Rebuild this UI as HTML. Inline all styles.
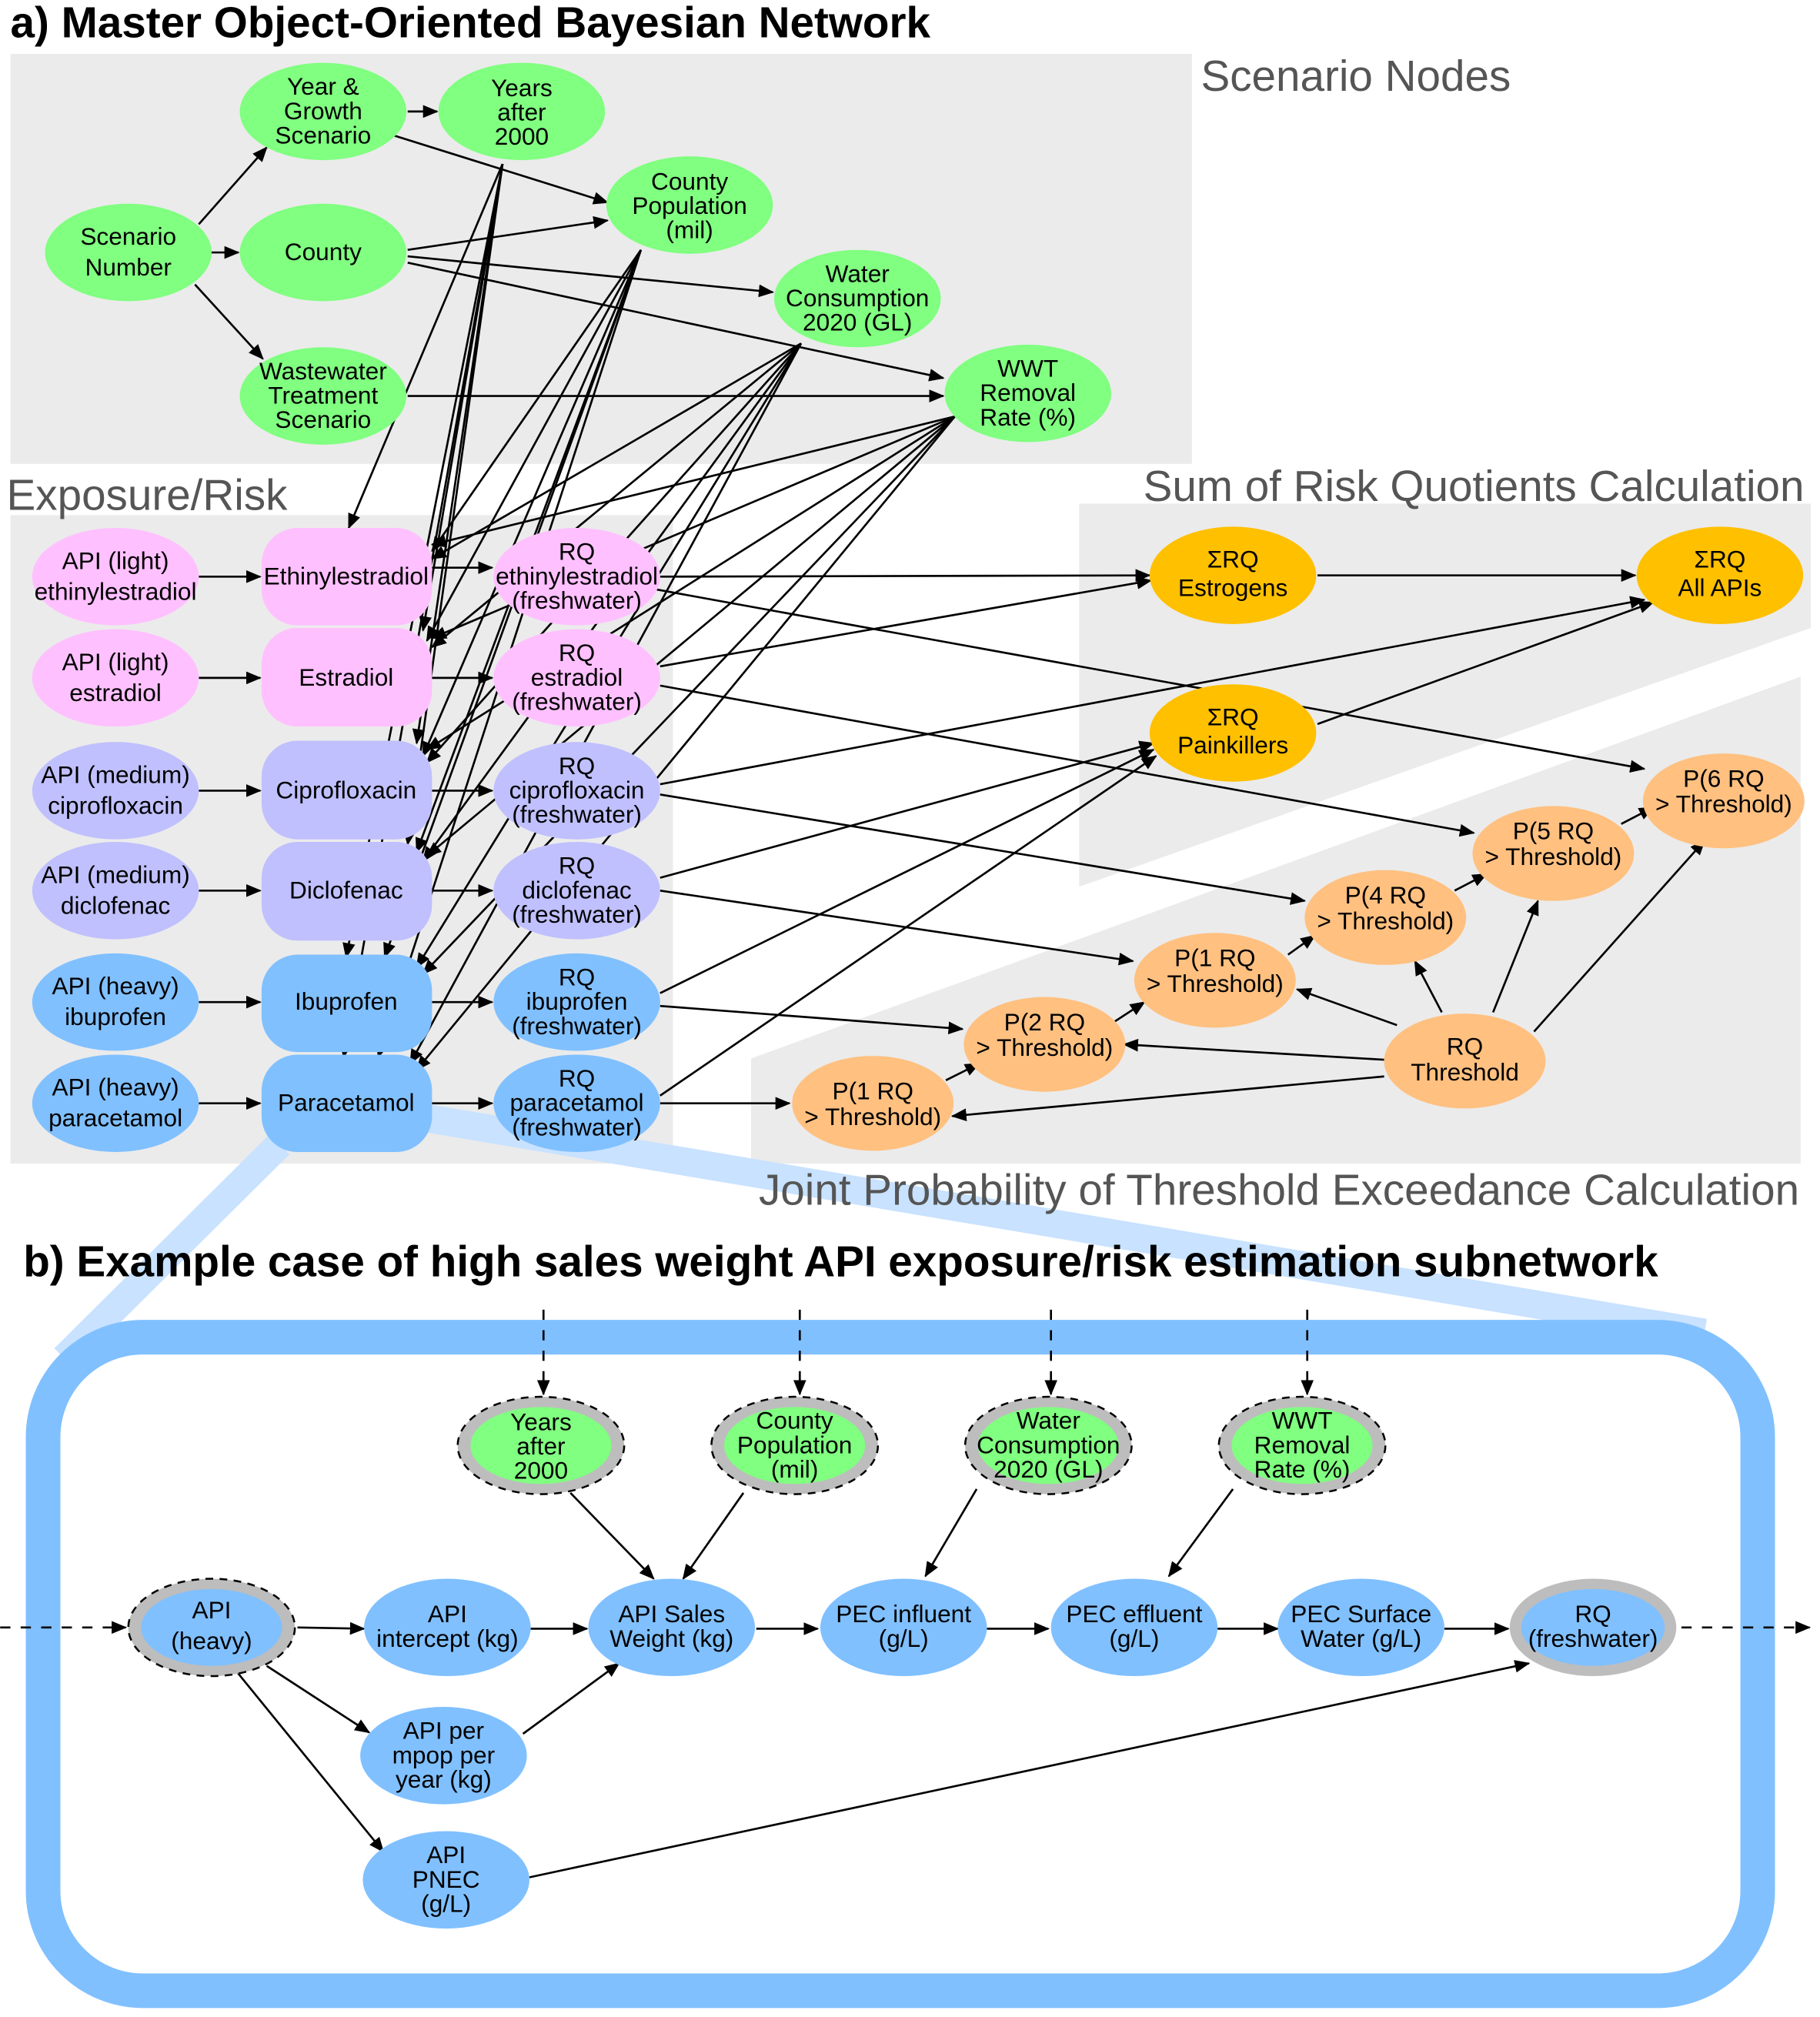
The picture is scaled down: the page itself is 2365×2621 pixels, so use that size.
<!DOCTYPE html>
<html><head><meta charset="utf-8"><style>
html,body{margin:0;padding:0;background:#fff}
svg{display:block}
text{font-family:"Liberation Sans",sans-serif;font-size:19px;fill:#000;text-anchor:middle}
.t{font-size:34px;font-weight:bold;text-anchor:start}
.g{font-size:34px;fill:#555;text-anchor:start}
.e line,.e path{stroke:#000;stroke-width:1.6;fill:none;marker-end:url(#a)}
.d line{stroke:#000;stroke-width:1.6;stroke-dasharray:8,8;marker-end:url(#a)}
</style></head><body>
<svg width="2365" height="2621" viewBox="0 0 1420 1574" xmlns="http://www.w3.org/2000/svg">
<defs><marker id="a" markerUnits="userSpaceOnUse" markerWidth="12" markerHeight="10" refX="11" refY="5" orient="auto"><path d="M0,0 L12,5 L0,10 z" fill="#000"/></marker></defs>

<rect x="8" y="42" width="922" height="320" fill="#ebebeb"/>
<rect x="8" y="402" width="517" height="506" fill="#ebebeb"/>
<polygon points="842,393 1413,393 1413,490 842,692" fill="#ebebeb"/>
<polygon points="586,826 1405,528 1405,908 586,908" fill="#ebebeb"/>
<g stroke="#c8e2ff" stroke-width="22"><line x1="218" y1="893" x2="50" y2="1060"/><line x1="335" y1="873" x2="1330" y2="1040"/></g>
<text class="t" x="8" y="29">a) Master Object-Oriented Bayesian Network</text>
<text class="g" x="937" y="71">Scenario Nodes</text>
<text class="g" x="5" y="398">Exposure/Risk</text>
<text class="g" x="892" y="391">Sum of Risk Quotients Calculation</text>
<text class="g" x="592" y="940">Joint Probability of Threshold Exceedance Calculation</text>
<text class="t" x="18" y="996">b) Example case of high sales weight API exposure/risk estimation subnetwork</text>
<rect x="33.5" y="1043.5" width="1338" height="510" rx="78" fill="#fff" stroke="#80c0ff" stroke-width="27"/>

<g class="e">
<line x1="155" y1="175" x2="208" y2="115"/><line x1="165" y1="197" x2="186" y2="197"/><line x1="152" y1="222" x2="205" y2="280"/>
<line x1="318" y1="87" x2="341" y2="87"/><line x1="305" y1="105" x2="474" y2="158"/>
<line x1="318" y1="195" x2="474" y2="172"/><line x1="318" y1="200" x2="603" y2="228"/><line x1="318" y1="205" x2="736" y2="295"/>
<line x1="318" y1="309" x2="736" y2="309"/>
<line x1="392" y1="128" x2="272" y2="412"/><line x1="392" y1="128" x2="330" y2="492"/><line x1="392" y1="128" x2="325" y2="580"/><line x1="392" y1="128" x2="318" y2="659"/><line x1="392" y1="128" x2="270" y2="747"/><line x1="392" y1="128" x2="268" y2="825"/>
<line x1="500" y1="195" x2="337" y2="430"/><line x1="500" y1="195" x2="333" y2="500"/><line x1="500" y1="195" x2="330" y2="590"/><line x1="500" y1="195" x2="325" y2="665"/><line x1="500" y1="195" x2="300" y2="747"/><line x1="500" y1="195" x2="295" y2="825"/>
<line x1="625" y1="268" x2="337" y2="436"/><line x1="625" y1="268" x2="337" y2="505"/><line x1="625" y1="268" x2="333" y2="595"/><line x1="625" y1="268" x2="330" y2="672"/><line x1="625" y1="268" x2="325" y2="755"/><line x1="625" y1="268" x2="320" y2="830"/>
<line x1="745" y1="325" x2="337" y2="425"/><line x1="745" y1="325" x2="337" y2="498"/><line x1="745" y1="325" x2="333" y2="585"/><line x1="745" y1="325" x2="333" y2="668"/><line x1="745" y1="325" x2="330" y2="760"/><line x1="745" y1="325" x2="325" y2="835"/>
<line x1="155" y1="450" x2="203" y2="450"/><line x1="155" y1="529" x2="203" y2="529"/><line x1="155" y1="617" x2="203" y2="617"/><line x1="155" y1="695" x2="203" y2="695"/><line x1="155" y1="782" x2="203" y2="782"/><line x1="155" y1="861" x2="203" y2="861"/>
<line x1="337" y1="443" x2="384" y2="443"/><line x1="337" y1="529" x2="384" y2="529"/><line x1="337" y1="617" x2="384" y2="617"/><line x1="337" y1="695" x2="384" y2="695"/><line x1="337" y1="782" x2="384" y2="782"/><line x1="337" y1="861" x2="384" y2="861"/>
<line x1="515" y1="450" x2="897" y2="449"/><line x1="512" y1="460" x2="1283" y2="600"/>
<line x1="515" y1="520" x2="898" y2="453"/><line x1="515" y1="535" x2="1150" y2="650"/>
<line x1="515" y1="612" x2="1283" y2="468"/><line x1="515" y1="620" x2="1018" y2="703"/>
<line x1="515" y1="685" x2="900" y2="580"/><line x1="515" y1="695" x2="884" y2="750"/>
<line x1="515" y1="775" x2="900" y2="585"/><line x1="515" y1="785" x2="751" y2="803"/>
<line x1="515" y1="855" x2="902" y2="590"/><line x1="515" y1="861" x2="616" y2="861"/>
<line x1="1028" y1="449" x2="1276" y2="449"/><line x1="1028" y1="565" x2="1290" y2="470"/>
<line x1="738" y1="843" x2="764" y2="830"/><line x1="870" y1="797" x2="893" y2="782"/><line x1="1005" y1="745" x2="1026" y2="730"/><line x1="1135" y1="695" x2="1160" y2="682"/><line x1="1265" y1="643" x2="1290" y2="630"/>
<line x1="1080" y1="840" x2="743" y2="871"/><line x1="1080" y1="827" x2="877" y2="815"/><line x1="1090" y1="800" x2="1012" y2="772"/><line x1="1125" y1="790" x2="1104" y2="750"/><line x1="1165" y1="790" x2="1200" y2="703"/><line x1="1197" y1="805" x2="1330" y2="656"/>
</g>

<g fill="#80ff80">
<ellipse cx="100" cy="197" rx="65" ry="38"/><ellipse cx="252" cy="87" rx="65" ry="38"/><ellipse cx="407" cy="87" rx="65" ry="38"/><ellipse cx="252" cy="197" rx="65" ry="38"/><ellipse cx="538" cy="160" rx="65" ry="38"/><ellipse cx="669" cy="233" rx="65" ry="38"/><ellipse cx="252" cy="309" rx="65" ry="38"/><ellipse cx="802" cy="307" rx="65" ry="38"/>
</g>
<text x="100" y="191">Scenario</text><text x="100" y="215">Number</text>
<text x="252" y="74">Year &amp;</text><text x="252" y="93">Growth</text><text x="252" y="112">Scenario</text>
<text x="407" y="75">Years</text><text x="407" y="94">after</text><text x="407" y="113">2000</text>
<text x="252" y="203">County</text>
<text x="538" y="148">County</text><text x="538" y="167">Population</text><text x="538" y="186">(mil)</text>
<text x="669" y="220">Water</text><text x="669" y="239">Consumption</text><text x="669" y="258">2020 (GL)</text>
<text x="252" y="296">Wastewater</text><text x="252" y="315">Treatment</text><text x="252" y="334">Scenario</text>
<text x="802" y="294">WWT</text><text x="802" y="313">Removal</text><text x="802" y="332">Rate (%)</text>

<g fill="#ffc0ff"><ellipse cx="90" cy="450" rx="65" ry="38"/><ellipse cx="90" cy="529" rx="65" ry="38"/><rect x="204" y="412" width="133" height="76" rx="28"/><rect x="204" y="490" width="133" height="77" rx="28"/><ellipse cx="450" cy="450" rx="65" ry="38"/><ellipse cx="450" cy="529" rx="65" ry="38"/></g>
<g fill="#c0c0ff"><ellipse cx="90" cy="617" rx="65" ry="38"/><ellipse cx="90" cy="695" rx="65" ry="38"/><rect x="204" y="578" width="133" height="77" rx="28"/><rect x="204" y="657" width="133" height="77" rx="28"/><ellipse cx="450" cy="617" rx="65" ry="38"/><ellipse cx="450" cy="695" rx="65" ry="38"/></g>
<g fill="#80c0ff"><ellipse cx="90" cy="782" rx="65" ry="38"/><ellipse cx="90" cy="861" rx="65" ry="38"/><rect x="204" y="745" width="133" height="76" rx="28"/><rect x="204" y="823" width="133" height="76" rx="28"/><ellipse cx="450" cy="782" rx="65" ry="38"/><ellipse cx="450" cy="861" rx="65" ry="38"/></g>
<text x="90" y="444">API (light)</text><text x="90" y="468">ethinylestradiol</text>
<text x="90" y="523">API (light)</text><text x="90" y="547">estradiol</text>
<text x="90" y="611">API (medium)</text><text x="90" y="635">ciprofloxacin</text>
<text x="90" y="689">API (medium)</text><text x="90" y="713">diclofenac</text>
<text x="90" y="776">API (heavy)</text><text x="90" y="800">ibuprofen</text>
<text x="90" y="855">API (heavy)</text><text x="90" y="879">paracetamol</text>
<text x="270" y="456">Ethinylestradiol</text><text x="270" y="535">Estradiol</text><text x="270" y="623">Ciprofloxacin</text><text x="270" y="701">Diclofenac</text><text x="270" y="788">Ibuprofen</text><text x="270" y="867">Paracetamol</text>
<text x="450" y="437">RQ</text><text x="450" y="456">ethinylestradiol</text><text x="450" y="475">(freshwater)</text>
<text x="450" y="516">RQ</text><text x="450" y="535">estradiol</text><text x="450" y="554">(freshwater)</text>
<text x="450" y="604">RQ</text><text x="450" y="623">ciprofloxacin</text><text x="450" y="642">(freshwater)</text>
<text x="450" y="682">RQ</text><text x="450" y="701">diclofenac</text><text x="450" y="720">(freshwater)</text>
<text x="450" y="769">RQ</text><text x="450" y="788">ibuprofen</text><text x="450" y="807">(freshwater)</text>
<text x="450" y="848">RQ</text><text x="450" y="867">paracetamol</text><text x="450" y="886">(freshwater)</text>

<g fill="#ffc000"><ellipse cx="962" cy="449" rx="65" ry="38"/><ellipse cx="1342" cy="449" rx="65" ry="38"/><ellipse cx="962" cy="572" rx="65" ry="38"/></g>
<text x="962" y="443">ΣRQ</text><text x="962" y="465">Estrogens</text>
<text x="1342" y="443">ΣRQ</text><text x="1342" y="465">All APIs</text>
<text x="962" y="566">ΣRQ</text><text x="962" y="588">Painkillers</text>
<g fill="#ffc080"><ellipse cx="1345" cy="625" rx="63" ry="37"/><ellipse cx="1212" cy="666" rx="63" ry="37"/><ellipse cx="1081" cy="716" rx="63" ry="37"/><ellipse cx="948" cy="765" rx="63" ry="37"/><ellipse cx="815" cy="815" rx="63" ry="37"/><ellipse cx="681" cy="861" rx="63" ry="37"/><ellipse cx="1143" cy="828" rx="63" ry="37"/></g>
<text x="1345" y="614">P(6 RQ</text><text x="1345" y="634">&gt; Threshold)</text>
<text x="1212" y="655">P(5 RQ</text><text x="1212" y="675">&gt; Threshold)</text>
<text x="1081" y="705">P(4 RQ</text><text x="1081" y="725">&gt; Threshold)</text>
<text x="948" y="754">P(1 RQ</text><text x="948" y="774">&gt; Threshold)</text>
<text x="815" y="804">P(2 RQ</text><text x="815" y="824">&gt; Threshold)</text>
<text x="681" y="858">P(1 RQ</text><text x="681" y="878">&gt; Threshold)</text>
<text x="1143" y="823">RQ</text><text x="1143" y="843">Threshold</text>

<g class="d"><line x1="424" y1="1022" x2="424" y2="1088"/><line x1="624" y1="1022" x2="624" y2="1088"/><line x1="820" y1="1022" x2="820" y2="1088"/><line x1="1020" y1="1022" x2="1020" y2="1088"/><line x1="0" y1="1270" x2="98" y2="1270"/><line x1="1312" y1="1270" x2="1412" y2="1270"/></g>
<g class="e">
<line x1="445" y1="1165" x2="510" y2="1232"/><line x1="580" y1="1165" x2="533" y2="1232"/><line x1="762" y1="1162" x2="722" y2="1230"/><line x1="962" y1="1162" x2="912" y2="1230"/>
<line x1="232" y1="1270" x2="284" y2="1271"/><line x1="208" y1="1300" x2="288" y2="1352"/><line x1="185" y1="1305" x2="299" y2="1445"/>
<line x1="414" y1="1271" x2="458" y2="1271"/><line x1="408" y1="1353" x2="483" y2="1298"/>
<line x1="590" y1="1271" x2="638" y2="1271"/><line x1="770" y1="1271" x2="818" y2="1271"/><line x1="950" y1="1271" x2="997" y2="1271"/><line x1="1127" y1="1271" x2="1177" y2="1271"/>
<line x1="413" y1="1465" x2="1193" y2="1298"/>
</g>
<g fill="#bdbdbd" stroke="#000" stroke-width="1.5" stroke-dasharray="6,5"><ellipse cx="422" cy="1128" rx="65" ry="38"/><ellipse cx="620" cy="1128" rx="65" ry="38"/><ellipse cx="818" cy="1128" rx="65" ry="38"/><ellipse cx="1016" cy="1128" rx="65" ry="38"/><ellipse cx="165" cy="1270" rx="65" ry="38"/></g>
<g fill="#80ff80"><ellipse cx="422" cy="1128" rx="55" ry="30"/><ellipse cx="620" cy="1128" rx="55" ry="30"/><ellipse cx="818" cy="1128" rx="55" ry="30"/><ellipse cx="1016" cy="1128" rx="55" ry="30"/></g>
<ellipse cx="1243" cy="1270" rx="65" ry="38" fill="#bdbdbd"/>
<g fill="#80c0ff"><ellipse cx="165" cy="1270" rx="55" ry="30"/><ellipse cx="1243" cy="1270" rx="56" ry="30"/>
<ellipse cx="349" cy="1270" rx="65" ry="38"/><ellipse cx="524" cy="1270" rx="65" ry="38"/><ellipse cx="705" cy="1270" rx="65" ry="38"/><ellipse cx="885" cy="1270" rx="65" ry="38"/><ellipse cx="1062" cy="1270" rx="65" ry="38"/><ellipse cx="346" cy="1370" rx="65" ry="38"/><ellipse cx="348" cy="1467" rx="65" ry="38"/></g>
<text x="422" y="1116">Years</text><text x="422" y="1135">after</text><text x="422" y="1154">2000</text>
<text x="620" y="1115">County</text><text x="620" y="1134">Population</text><text x="620" y="1153">(mil)</text>
<text x="818" y="1115">Water</text><text x="818" y="1134">Consumption</text><text x="818" y="1153">2020 (GL)</text>
<text x="1016" y="1115">WWT</text><text x="1016" y="1134">Removal</text><text x="1016" y="1153">Rate (%)</text>
<text x="165" y="1263">API</text><text x="165" y="1287">(heavy)</text>
<text x="349" y="1266">API</text><text x="349" y="1285">intercept (kg)</text>
<text x="524" y="1266">API Sales</text><text x="524" y="1285">Weight (kg)</text>
<text x="705" y="1266">PEC influent</text><text x="705" y="1285">(g/L)</text>
<text x="885" y="1266">PEC effluent</text><text x="885" y="1285">(g/L)</text>
<text x="1062" y="1266">PEC Surface</text><text x="1062" y="1285">Water (g/L)</text>
<text x="1243" y="1266">RQ</text><text x="1243" y="1285">(freshwater)</text>
<text x="346" y="1357">API per</text><text x="346" y="1376">mpop per</text><text x="346" y="1395">year (kg)</text>
<text x="348" y="1454">API</text><text x="348" y="1473">PNEC</text><text x="348" y="1492">(g/L)</text>
</svg>
</body></html>
